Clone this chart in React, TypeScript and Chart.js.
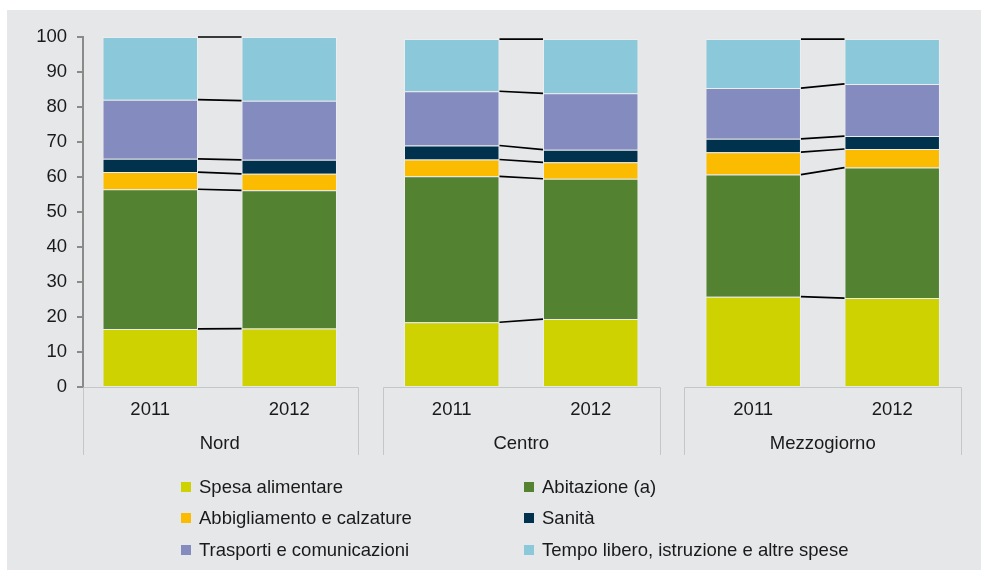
import React, { useEffect, useRef } from 'react';
import { Chart, registerables } from 'chart.js';

Chart.register(...registerables);

const regions = ['Nord', 'Centro', 'Mezzogiorno'];
const years = ['2011', '2012'];
const seriesNames = [
  'Spesa alimentare',
  'Abitazione (a)',
  'Abbigliamento e calzature',
  'Sanità',
  'Trasporti e comunicazioni',
  'Tempo libero, istruzione e altre spese',
];
const seriesColors = ['#cdd200', '#538230', '#fbbb00', '#00324d', '#848bbf', '#8bc8da'];

// values per region: Nord, Centro, Mezzogiorno
const spesaAlimentare2011 = [16.6, 18.5, 25.8];
const spesaAlimentare2012 = [16.7, 19.4, 25.4];
const abitazione2011 = [39.9, 41.7, 34.9];
const abitazione2012 = [39.5, 40.1, 37.3];
const abbigliamento2011 = [4.9, 4.8, 6.4];
const abbigliamento2012 = [4.7, 4.7, 5.3];
const sanita2011 = [3.8, 4.0, 3.8];
const sanita2012 = [4.0, 3.6, 3.7];
const trasporti2011 = [16.9, 15.5, 14.5];
const trasporti2012 = [16.9, 16.1, 14.9];
const tempoLibero2011 = [17.9, 14.9, 14.0];
const tempoLibero2012 = [18.2, 15.5, 12.8];

const yTicks = [0, 10, 20, 30, 40, 50, 60, 70, 80, 90, 100];

const seriesValues = [
  [spesaAlimentare2011, spesaAlimentare2012],
  [abitazione2011, abitazione2012],
  [abbigliamento2011, abbigliamento2012],
  [sanita2011, sanita2012],
  [trasporti2011, trasporti2012],
  [tempoLibero2011, tempoLibero2012],
];

const FONT = '"Liberation Sans", Arial, sans-serif';
const FONT_SIZE = 18.5;
const TEXT_COLOR = '#1a1a1a';

const backgroundPlugin = {
  id: 'bgPanel',
  beforeDraw(chart: any) {
    const ctx = chart.ctx;
    ctx.save();
    ctx.fillStyle = '#ffffff';
    ctx.fillRect(0, 0, chart.width, chart.height);
    ctx.fillStyle = '#e6e7e9';
    ctx.fillRect(7, 10, chart.width - 7, chart.height - 10);
    ctx.restore();
  },
};

const connectorPlugin = {
  id: 'connectors',
  afterDatasetsDraw(chart: any) {
    const ctx = chart.ctx;
    ctx.save();
    ctx.strokeStyle = '#000000';
    ctx.lineWidth = 1.7;
    for (let s = 0; s < seriesNames.length; s++) {
      const m1 = chart.getDatasetMeta(s * 2);
      const m2 = chart.getDatasetMeta(s * 2 + 1);
      for (let i = 0; i < regions.length; i++) {
        const a = m1.data[i].getProps(['x', 'y', 'width'], true);
        const b = m2.data[i].getProps(['x', 'y', 'width'], true);
        ctx.beginPath();
        ctx.moveTo(a.x + a.width / 2, a.y);
        ctx.lineTo(b.x - b.width / 2, b.y);
        ctx.stroke();
      }
    }
    ctx.restore();
  },
};

const categoryBoxPlugin = {
  id: 'categoryBoxes',
  afterDraw(chart: any) {
    const ctx = chart.ctx;
    const xs = chart.scales.x;
    const area = chart.chartArea;
    const top = area.bottom;
    const bottom = top + 68;
    ctx.save();
    for (let i = 0; i < regions.length; i++) {
      const left = Math.max(xs.getPixelForValue(i - 0.46), area.left);
      const right = Math.min(xs.getPixelForValue(i + 0.46), area.right);
      ctx.strokeStyle = '#c5c6c8';
      ctx.lineWidth = 1;
      ctx.beginPath();
      ctx.moveTo(Math.round(left) + 0.5, bottom);
      ctx.lineTo(Math.round(left) + 0.5, top + 0.5);
      ctx.lineTo(Math.round(right) + 0.5, top + 0.5);
      ctx.lineTo(Math.round(right) + 0.5, bottom);
      ctx.stroke();

      ctx.fillStyle = TEXT_COLOR;
      ctx.font = `${FONT_SIZE}px ${FONT}`;
      ctx.textAlign = 'center';
      ctx.textBaseline = 'middle';
      for (let y = 0; y < years.length; y++) {
        const el = chart.getDatasetMeta(y).data[i].getProps(['x'], true);
        ctx.fillText(years[y], el.x, top + 23);
      }
      ctx.fillText(regions[i], xs.getPixelForValue(i), top + 56.5);
    }
    ctx.restore();
  },
};

export default function App() {
  const canvasRef = useRef<HTMLCanvasElement | null>(null);

  useEffect(() => {
    if (!canvasRef.current) return;
    const datasets: any[] = [];
    seriesNames.forEach((name, s) => {
      years.forEach((year, y) => {
        datasets.push({
          label: name,
          stack: year,
          data: regions.map((_, i) => ({ x: i, y: seriesValues[s][y][i] })),
          backgroundColor: seriesColors[s],
          borderColor: 'rgba(255,255,255,0.25)',
          borderWidth: 1,
          categoryPercentage: 0.922,
          barPercentage: 0.687,
        });
      });
    });

    const chart = new Chart(canvasRef.current, {
      type: 'bar',
      data: { datasets },
      options: {
        responsive: false,
        animation: false,
        devicePixelRatio: 1,
        layout: { padding: { left: 0, top: 37, right: 19, bottom: 183 } },
        plugins: {
          legend: { display: false },
          tooltip: { enabled: false },
        },
        scales: {
          x: {
            type: 'linear',
            display: false,
            min: -0.4536,
            max: 2.462,
            offset: false,
            ticks: { stepSize: 1, includeBounds: false },
          },
          y: {
            stacked: true,
            min: 0,
            max: 100,
            afterFit(scale: any) {
              scale.width = 83;
            },
            afterBuildTicks(scale: any) {
              scale.ticks = yTicks.map((v) => ({ value: v }));
            },
            ticks: {
              stepSize: 10,
              padding: 10,
              color: TEXT_COLOR,
              font: { family: FONT, size: FONT_SIZE },
            },
            grid: {
              drawOnChartArea: false,
              drawTicks: true,
              tickLength: 6,
              color: '#8a8a8a',
              lineWidth: 2,
            },
            border: { display: true, color: '#8a8a8a', width: 2 },
          },
        },
      } as any,
      plugins: [backgroundPlugin, connectorPlugin, categoryBoxPlugin],
    });
    return () => chart.destroy();
  }, []);

  return (
    <div style={{ position: 'absolute', left: 0, top: 0, width: 981, height: 570 }}>
      <canvas ref={canvasRef} width={981} height={570} style={{ display: 'block', width: 981, height: 570 }} />
      {seriesNames.map((name, s) => {
        const col = s % 2;
        const row = Math.floor(s / 2);
        const left = col === 0 ? 181 : 524;
        const cy = [487, 518, 550][row];
        return (
          <div
            key={name}
            style={{
              position: 'absolute',
              left,
              top: cy - 12,
              height: 24,
              display: 'flex',
              alignItems: 'center',
              fontFamily: FONT,
              fontSize: FONT_SIZE,
              color: TEXT_COLOR,
              whiteSpace: 'nowrap',
            }}
          >
            <span style={{ display: 'inline-block', width: 10, height: 10, background: seriesColors[s], marginRight: 8 }} />
            <span>{name}</span>
          </div>
        );
      })}
    </div>
  );
}
